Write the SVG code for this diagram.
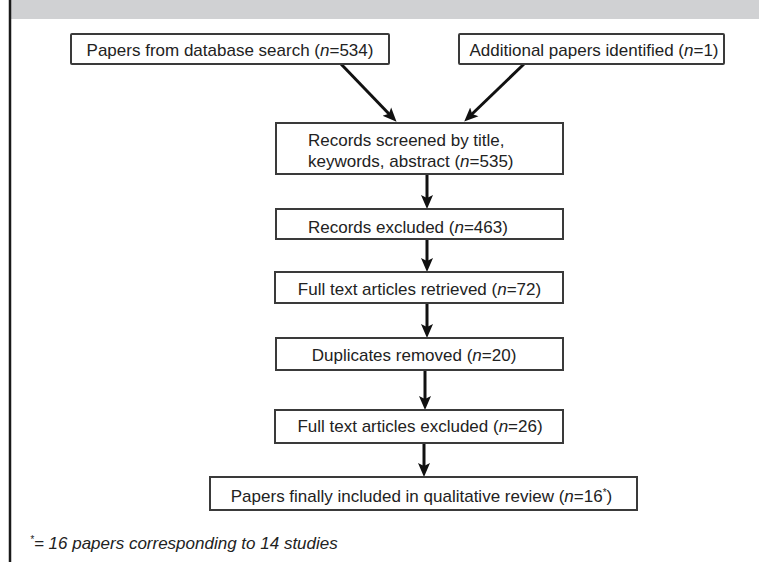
<svg xmlns="http://www.w3.org/2000/svg" width="759" height="562" viewBox="0 0 759 562">
  <style>
    .box { fill: #ffffff; stroke: #3a3a3a; stroke-width: 2; }
    .lbl { font-family: "Liberation Sans", Arial, sans-serif; font-size: 17px; fill: #222222; }
    .mid { text-anchor: middle; }
    .it { font-style: italic; }
    .conn { stroke: #111111; stroke-width: 3; fill: none; }
  </style>
  <defs>
    <marker id="arrow" markerUnits="userSpaceOnUse" markerWidth="15" markerHeight="13" viewBox="0 0 15 13" refX="6" refY="6.5" orient="auto">
      <path d="M0,0.5 L14,6.5 L0,12.5 L3,6.5 Z" fill="#111111"/>
    </marker>
  </defs>

  <rect x="0" y="0" width="759" height="562" fill="#ffffff"/>
  <rect x="11" y="0" width="748" height="19" fill="#d0d1d3"/>
  <line x1="10" y1="0" x2="10" y2="562" stroke="#1a1a1a" stroke-width="2.5"/>

  <g id="connectors">
    <line class="conn" x1="341" y1="64" x2="391" y2="116" marker-end="url(#arrow)"/>
    <line class="conn" x1="524" y1="64" x2="470" y2="116" marker-end="url(#arrow)"/>
    <line class="conn" x1="427" y1="174" x2="427" y2="201" marker-end="url(#arrow)"/>
    <line class="conn" x1="427" y1="239" x2="427" y2="264" marker-end="url(#arrow)"/>
    <line class="conn" x1="427" y1="303" x2="427" y2="330" marker-end="url(#arrow)"/>
    <line class="conn" x1="425" y1="370" x2="425" y2="402" marker-end="url(#arrow)"/>
    <line class="conn" x1="424" y1="443" x2="424" y2="469" marker-end="url(#arrow)"/>
  </g>

  <g id="n1">
    <rect class="box" x="71" y="34" width="318" height="30" rx="1"/>
    <text class="lbl mid" x="230" y="56">Papers from database search (<tspan class="it">n</tspan>=534)</text>
  </g>
  <g id="n2">
    <rect class="box" x="459" y="34" width="265" height="30" rx="1"/>
    <text class="lbl mid" x="594" y="56">Additional papers identified (<tspan class="it">n</tspan>=1)</text>
  </g>
  <g id="n3">
    <rect class="box" x="276" y="123" width="287" height="51"/>
    <text class="lbl" x="308" y="146">Records screened by title,</text>
    <text class="lbl" x="308" y="167">keywords, abstract (<tspan class="it">n</tspan>=535)</text>
  </g>
  <g id="n4">
    <rect class="box" x="276" y="209" width="287" height="30"/>
    <text class="lbl" x="308" y="233">Records excluded (<tspan class="it">n</tspan>=463)</text>
  </g>
  <g id="n5">
    <rect class="box" x="275" y="272" width="288" height="31"/>
    <text class="lbl mid" x="419.5" y="295">Full text articles retrieved (<tspan class="it">n</tspan>=72)</text>
  </g>
  <g id="n6">
    <rect class="box" x="276" y="338" width="287" height="32"/>
    <text class="lbl mid" x="414" y="361">Duplicates removed (<tspan class="it">n</tspan>=20)</text>
  </g>
  <g id="n7">
    <rect class="box" x="275" y="410" width="288" height="33"/>
    <text class="lbl mid" x="420" y="432">Full text articles excluded (<tspan class="it">n</tspan>=26)</text>
  </g>
  <g id="n8">
    <rect class="box" x="210" y="477" width="427" height="33"/>
    <text class="lbl mid" x="421.5" y="502">Papers finally included in qualitative review (<tspan class="it">n</tspan>=16<tspan font-size="10" dy="-6">*</tspan><tspan dy="6">)</tspan></text>
  </g>

  <text class="lbl it" x="30" y="549" font-size="16.5"><tspan font-size="10" dy="-6">*</tspan><tspan dy="6">= 16 papers corresponding to 14 studies</tspan></text>
</svg>
